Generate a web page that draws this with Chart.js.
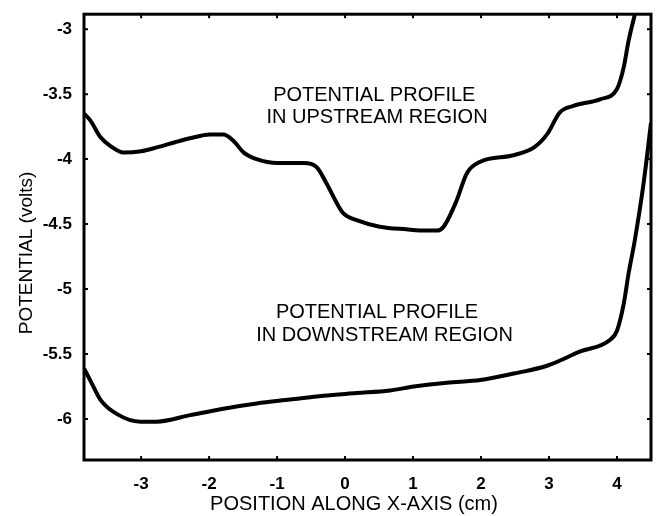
<!DOCTYPE html>
<html>
<head>
<meta charset="utf-8">
<script src="https://cdn.jsdelivr.net/npm/chart.js@4.4.0/dist/chart.umd.min.js"></script>
<style>
  body { margin: 0; background: #fff; }
  #wrap { width: 657px; height: 516px; }
</style>
</head>
<body>
<div id="wrap"><canvas id="potChart" width="657" height="516"></canvas></div>
<script>
// Perfil de potencial
const upstreamX = [-3.84, -3.75, -3.60, -3.45, -3.26, -3.0, -2.77, -2.5, -2.28, -1.99, -1.79, -1.64, -1.49, -1.30, -1.00, -0.61, -0.42, -0.27, -0.12, -0.02, 0.17, 0.51, 0.9, 1.2, 1.35, 1.45, 1.64, 1.79, 1.99, 2.48, 2.78, 2.97, 3.16, 3.36, 3.75, 4.00, 4.10, 4.17, 4.28];
const upstreamY = [-3.65, -3.70, -3.83, -3.90, -3.95, -3.94, -3.91, -3.87, -3.84, -3.81, -3.81, -3.86, -3.95, -4.00, -4.03, -4.03, -4.06, -4.19, -4.34, -4.42, -4.47, -4.52, -4.54, -4.55, -4.55, -4.52, -4.32, -4.11, -4.02, -3.97, -3.91, -3.81, -3.64, -3.59, -3.54, -3.46, -3.29, -3.09, -2.85];

const downstreamX = [-3.84, -3.75, -3.60, -3.36, -3.01, -2.77, -2.28, -1.79, -1.30, -0.81, -0.32, 0.17, 0.66, 1.01, 1.50, 1.99, 2.48, 2.97, 3.46, 3.90, 4.00, 4.10, 4.17, 4.26, 4.39, 4.50];
const downstreamY = [-5.61, -5.70, -5.85, -5.96, -6.02, -6.02, -5.97, -5.92, -5.88, -5.85, -5.82, -5.80, -5.78, -5.75, -5.72, -5.70, -5.65, -5.59, -5.48, -5.39, -5.32, -5.11, -4.88, -4.63, -4.19, -3.72];

const xTicks = [-3, -2, -1, 0, 1, 2, 3, 4];
const yTicks = [-3, -3.5, -4, -4.5, -5, -5.5, -6];

const xTitle = 'POSITION ALONG X-AXIS (cm)';
const yTitle = 'POTENTIAL (volts)';

// textos dentro do gráfico: [texto, x, y]
const labels = [
    ['POTENTIAL PROFILE', 0.43, -3.51],
    ['IN UPSTREAM REGION', 0.47, -3.68],
    ['POTENTIAL PROFILE', 0.47, -5.18],
    ['IN DOWNSTREAM REGION', 0.58, -5.36]
];

const FONT = '"Liberation Sans", Arial, sans-serif';
const toPoints = (xs, ys) => xs.map((x, i) => ({ x: x, y: ys[i] }));

// moldura com marcas para dentro, textos e títulos dos eixos
const framePlugin = {
    id: 'frame',
    afterDatasetsDraw(chart) {
        const { ctx, chartArea: a, scales } = chart;
        ctx.save();
        ctx.strokeStyle = '#000';
        ctx.lineWidth = 2;
        const t = 4;
        xTicks.forEach(v => {
            const px = scales.x.getPixelForValue(v);
            ctx.beginPath();
            ctx.moveTo(px, a.bottom); ctx.lineTo(px, a.bottom - t);
            ctx.moveTo(px, a.top); ctx.lineTo(px, a.top + t);
            ctx.stroke();
        });
        yTicks.forEach(v => {
            const py = scales.y.getPixelForValue(v);
            ctx.beginPath();
            ctx.moveTo(a.left, py); ctx.lineTo(a.left + t, py);
            ctx.moveTo(a.right, py); ctx.lineTo(a.right - t, py);
            ctx.stroke();
        });
        ctx.lineWidth = 3;
        ctx.strokeRect(a.left, a.top, a.right - a.left, a.bottom - a.top);

        ctx.fillStyle = '#000';
        ctx.font = '20px ' + FONT;
        ctx.textAlign = 'center';
        ctx.textBaseline = 'middle';
        labels.forEach(([txt, x, y]) => {
            ctx.fillText(txt, scales.x.getPixelForValue(x), scales.y.getPixelForValue(y));
        });

        // títulos dos eixos (posição igual à figura original)
        ctx.fillText(xTitle, 354, 504);
        ctx.font = '19px ' + FONT;
        ctx.translate(27, 253);
        ctx.rotate(-Math.PI / 2);
        ctx.fillText(yTitle, 0, 0);
        ctx.restore();
    }
};

const lineStyle = {
    showLine: true,
    borderColor: '#000',
    backgroundColor: '#000',
    borderWidth: 4,
    pointRadius: 0,
    cubicInterpolationMode: 'monotone'
};

new Chart(document.getElementById('potChart'), {
    type: 'scatter',
    data: {
        datasets: [
            { label: 'upstream', data: toPoints(upstreamX, upstreamY), ...lineStyle },
            { label: 'downstream', data: toPoints(downstreamX, downstreamY), ...lineStyle }
        ]
    },
    options: {
        responsive: false,
        animation: false,
        events: [],
        layout: { padding: { top: 13, right: 6, left: 0, bottom: 0 } },
        plugins: {
            legend: { display: false },
            tooltip: { enabled: false }
        },
        scales: {
            x: {
                type: 'linear',
                min: -3.84,
                max: 4.5,
                grid: { display: false },
                border: { display: false },
                afterBuildTicks: s => { s.ticks = xTicks.map(v => ({ value: v })); },
                afterFit: s => { s.height = 56; },
                ticks: {
                    color: '#000',
                    padding: 6,
                    maxRotation: 0,
                    font: { family: FONT, size: 17, weight: 'bold' },
                    callback: v => String(v)
                },
                title: { display: false }
            },
            y: {
                type: 'linear',
                min: -6.315,
                max: -2.885,
                grid: { display: false },
                border: { display: false },
                afterBuildTicks: s => { s.ticks = yTicks.map(v => ({ value: v })); },
                afterFit: s => { s.width = 84; },
                ticks: {
                    color: '#000',
                    padding: 4,
                    font: { family: FONT, size: 17, weight: 'bold' },
                    callback: v => String(v)
                },
                title: { display: false }
            }
        }
    },
    plugins: [framePlugin]
});
</script>
</body>
</html>
